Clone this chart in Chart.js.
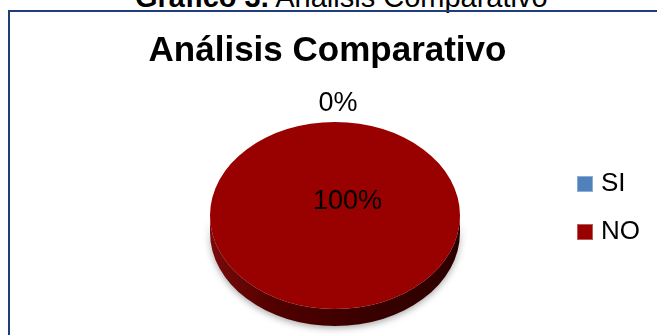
<!DOCTYPE html>
<html>
<head>
<meta charset="utf-8">
<script src="https://cdn.jsdelivr.net/npm/chart.js@4/dist/chart.umd.min.js"></script>
<style>
  html, body { margin: 0; padding: 0; background: #fff; overflow: hidden; }
  #wrap { position: relative; width: 657px; height: 335px; overflow: hidden; }
  #frame { position: absolute; left: 8px; top: 10px; width: 700px; height: 400px;
           border-top: 2px solid #1f3c7c; border-left: 2px solid #1f3c7c; }
  #cap { position: absolute; left: 135px; top: -17px; font-family: 'Liberation Sans', Arial, sans-serif;
         font-size: 29px; line-height: 29px; white-space: nowrap; color: #000; }
  #c { position: absolute; left: 0; top: 0; }
</style>
</head>
<body>
<div id="wrap">
  <div id="cap"><b>Gráfico 3.</b> Análisis Comparativo</div>
  <div id="frame"></div>
  <canvas id="c" width="657" height="335"></canvas>
</div>
<script>
// ---- data ----
const categories = ['SI', 'NO'];
const values = [0, 100];
const chartTitle = 'Análisis Comparativo';
const sliceColors = ['#4f81bd', '#990000'];

// ---- 3D look (style constants) ----
const TILT = 0.748;
const DEPTH = 17;
const SHIFT_X = 52.5;
const SHIFT_Y = 7.5;

const FONT = "'Liberation Sans', Arial, sans-serif";

function swatch(color) {
  const c = document.createElement('canvas');
  c.width = 16; c.height = 16;
  const k = c.getContext('2d');
  k.fillStyle = color;
  k.fillRect(0, 0, 16, 16);
  k.strokeStyle = 'rgba(255,255,255,0.35)';
  k.lineWidth = 1;
  k.strokeRect(0.5, 0.5, 15, 15);
  return c;
}

function geom(arc) {
  const r = arc.outerRadius;
  return { x: arc.x + SHIFT_X, cy: arc.y + SHIFT_Y, r: r, ry: r * TILT };
}

const pie3d = {
  id: 'pie3d',
  beforeDatasetsDraw(chart) {
    const ctx = chart.ctx;
    const arcs = chart.getDatasetMeta(0).data;
    const arc = arcs.find(a => a.circumference > 0) || arcs[0];
    const g0 = geom(arc);
    const x = g0.x, cy = g0.cy, r = g0.r, ry = g0.ry;
    ctx.save();
    // side wall
    ctx.save();
    ctx.shadowColor = 'rgba(0,0,0,0.35)';
    ctx.shadowBlur = 7;
    ctx.shadowOffsetY = 2;
    ctx.beginPath();
    ctx.ellipse(x, cy, r, ry, 0, 0, Math.PI, false);
    ctx.ellipse(x, cy + DEPTH, r, ry, 0, Math.PI, 0, true);
    ctx.closePath();
    const g = ctx.createLinearGradient(x - r, 0, x + r, 0);
    g.addColorStop(0, '#7a0a0a');
    g.addColorStop(0.25, '#520000');
    g.addColorStop(0.6, '#3a0000');
    g.addColorStop(1, '#2c0000');
    ctx.fillStyle = g;
    ctx.fill();
    ctx.restore();
    // squash and move the top face
    ctx.translate(x, cy);
    ctx.scale(1, TILT);
    ctx.translate(-arc.x, -arc.y);
  },
  afterDatasetsDraw(chart) {
    const ctx = chart.ctx;
    ctx.restore();
    const meta = chart.getDatasetMeta(0);
    const data = chart.data.datasets[0].data;
    const total = data.reduce((s, v) => s + v, 0);
    ctx.save();
    ctx.fillStyle = '#000';
    ctx.font = '27px ' + FONT;
    ctx.textAlign = 'center';
    ctx.textBaseline = 'middle';
    meta.data.forEach((arc, i) => {
      const frac = data[i] / total;
      const txt = Math.round(frac * 100) + '%';
      const g = geom(arc);
      const mid = (arc.startAngle + arc.endAngle) / 2;
      let lx, ly;
      if (frac < 0.05) {
        lx = g.x + Math.cos(mid) * (g.r + 18) + 3;
        ly = g.cy + Math.sin(mid) * (g.ry + 18);
      } else if (frac > 0.95) {
        lx = g.x + 0.1 * g.r;
        ly = g.cy - 0.15 * g.ry;
      } else {
        lx = g.x + Math.cos(mid) * g.r * 0.6;
        ly = g.cy + Math.sin(mid) * g.ry * 0.6;
      }
      ctx.fillText(txt, lx, ly);
    });
    ctx.restore();
  }
};

new Chart(document.getElementById('c'), {
  type: 'pie',
  data: {
    labels: categories,
    datasets: [{
      data: values,
      backgroundColor: sliceColors,
      borderWidth: 0
    }]
  },
  options: {
    responsive: false,
    animation: false,
    events: [],
    layout: { padding: { left: 5, right: 7, top: 0, bottom: 2 } },
    plugins: {
      title: {
        display: true,
        text: chartTitle,
        color: '#000',
        font: { family: FONT, size: 35, weight: 'bold' },
        padding: { top: 30, bottom: 11 }
      },
      legend: {
        position: 'right',
        fullSize: false,
        labels: {
          usePointStyle: true,
          pointStyleWidth: 6,
          boxHeight: 16,
          padding: 22,
          color: '#000',
          font: { family: FONT, size: 26 },
          generateLabels: (chart) => chart.data.labels.map((text, i) => ({
            text: text,
            fillStyle: sliceColors[i],
            strokeStyle: sliceColors[i],
            lineWidth: 0,
            pointStyle: swatch(sliceColors[i]),
            fontColor: '#000',
            hidden: false,
            index: i
          }))
        }
      },
      tooltip: { enabled: false }
    }
  },
  plugins: [pie3d]
});
</script>
</body>
</html>
